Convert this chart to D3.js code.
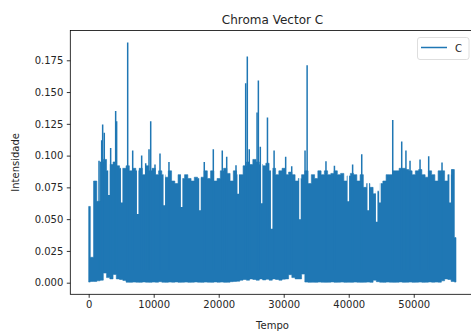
<!DOCTYPE html>
<html>
<head>
<meta charset="utf-8">
<script src="https://cdn.jsdelivr.net/npm/d3@7"></script>
<style>
  html, body { margin: 0; padding: 0; background: #fff; }
  svg { display: block; font-family: "DejaVu Sans", sans-serif; }
</style>
</head>
<body>
<svg id="chart" width="471" height="332"></svg>
<script>
// top of the dense band of the chroma line, one value every 500 samples (t = 0, 500, ...)
const corpo = [
  0.060, 0.020, 0.080, 0.064, 0.095, 0.097, 0.088, 0.093, 0.095, 0.092,
  0.090, 0.090, 0.092, 0.088, 0.090, 0.088, 0.090, 0.085, 0.092, 0.088,
  0.090, 0.085, 0.088, 0.085, 0.083, 0.088, 0.080, 0.078, 0.085, 0.082,
  0.085, 0.082, 0.080, 0.083, 0.082, 0.083, 0.088, 0.082, 0.088, 0.080,
  0.082, 0.088, 0.090, 0.086, 0.080, 0.088, 0.085, 0.085, 0.092, 0.095,
  0.093, 0.097, 0.095, 0.093, 0.092, 0.094, 0.088, 0.090, 0.085, 0.088,
  0.090, 0.085, 0.087, 0.085, 0.080, 0.082, 0.085, 0.088, 0.078, 0.085,
  0.082, 0.088, 0.085, 0.088, 0.085, 0.086, 0.088, 0.085, 0.086, 0.080,
  0.084, 0.086, 0.085, 0.080, 0.085, 0.075, 0.078, 0.075, 0.070, 0.072,
  0.078, 0.080, 0.085, 0.085, 0.088, 0.088, 0.090, 0.090, 0.089, 0.088,
  0.085, 0.088, 0.089, 0.085, 0.083, 0.088, 0.085, 0.080, 0.088, 0.088,
  0.080, 0.085, 0.089, 0.0355
];
// bottom of the band on the same grid
const vales = [
  0.0005, 0.001, 0.001, 0.0015, 0.002, 0.0076, 0.004, 0.003, 0.0065, 0.003,
  0.0025, 0.0018, 0.0004, 0.0003, 0.0005, 0.0004, 0.0003, 0.0006, 0.0004, 0.0003,
  0.0005, 0.0004, 0.0008, 0.0004, 0.0003, 0.0005, 0.0004, 0.0006, 0.0003, 0.0004,
  0.0005, 0.0003, 0.0004, 0.0006, 0.0004, 0.0003, 0.0005, 0.0004, 0.0003, 0.0006,
  0.0004, 0.0005, 0.0003, 0.0004, 0.0008, 0.001, 0.0012, 0.002, 0.0025, 0.002,
  0.003, 0.0025, 0.002, 0.003, 0.0022, 0.0028, 0.002, 0.003, 0.0025, 0.002,
  0.0028, 0.003, 0.0063, 0.004, 0.003, 0.003, 0.0068, 0.0005, 0.0003, 0.0004,
  0.0003, 0.0005, 0.0004, 0.0003, 0.0004, 0.0006, 0.0003, 0.0004, 0.0005, 0.0003,
  0.0004, 0.0003, 0.0005, 0.0004, 0.0003, 0.0004, 0.0005, 0.0003, 0.002, 0.0008,
  0.0004, 0.0003, 0.0005, 0.0004, 0.0003, 0.0004, 0.0006, 0.0003, 0.0004, 0.0005,
  0.0003, 0.0004, 0.0005, 0.0003, 0.0004, 0.0006, 0.0004, 0.0005, 0.0004, 0.0015,
  0.003, 0.0025, 0.001, 0.0005
];
// narrow peaks rising above the band
const picosTempo = [
  1590, 2000, 2150, 2400, 3380, 4150, 4300, 6000, 6770, 8150,
  8770, 9280, 9540, 10200, 10970, 12350, 17780, 19170, 20550, 21230,
  22660, 24150, 24400, 24700, 25900, 26100, 26400, 27500, 28520, 30300,
  31230, 33280, 33600, 36500, 37800, 40600, 42000, 46770, 48150, 48800,
  49430, 50970, 52300, 54350, 56000
];
const picosValor = [
  0.096, 0.112, 0.1245, 0.118, 0.106, 0.135, 0.127, 0.189, 0.104, 0.100,
  0.094, 0.105, 0.127, 0.093, 0.1017, 0.095, 0.095, 0.105, 0.104, 0.099,
  0.0925, 0.157, 0.178, 0.105, 0.134, 0.159, 0.107, 0.130, 0.104, 0.099,
  0.0917, 0.104, 0.171, 0.0955, 0.092, 0.093, 0.101, 0.128, 0.111, 0.104,
  0.096, 0.097, 0.0995, 0.0946, 0.089
];
// narrow dips where the band drops down
const quedasTempo = [
  3120, 5080, 7540, 11630, 14300, 17120, 23000, 26600, 28150, 32500,
  39940, 43000, 44300, 44800, 55600
];
const quedasValor = [
  0.069, 0.063, 0.054, 0.061, 0.0595, 0.057, 0.070, 0.0625, 0.0425, 0.050,
  0.064, 0.057, 0.048, 0.063, 0.063
];
const passo = 500;
const xTicks = [0, 10000, 20000, 30000, 40000, 50000];
const yTicks = [0, 0.025, 0.05, 0.075, 0.1, 0.125, 0.15, 0.175];

const banda = corpo.map((c, i) => ({ t: i * passo, hi: c, lo: vales[i] }));
const picos = picosTempo.map((t, i) => ({ t: t, v: picosValor[i] }));
const quedas = quedasTempo.map((t, i) => ({ t: t, v: quedasValor[i] }));

const mLeft = 70.3, mRight = 474.7, mTop = 30.5, mBottom = 294.3;
const svg = d3.select("#chart");

const xExt = [0, d3.max(banda, d => d.t) + 50];
const yExt = [d3.min(vales), d3.max(picosValor)];
const xPad = (xExt[1] - xExt[0]) * 0.05;
const yPad = (yExt[1] - yExt[0]) * 0.05;

const x = d3.scaleLinear().domain([xExt[0] - xPad, xExt[1] + xPad]).range([mLeft, mRight]);
const y = d3.scaleLinear().domain([yExt[0] - yPad, yExt[1] + yPad]).range([mBottom, mTop]);

svg.append("clipPath").attr("id", "clip")
  .append("rect")
  .attr("x", mLeft).attr("y", mTop)
  .attr("width", mRight - mLeft).attr("height", mBottom - mTop);

const plot = svg.append("g").attr("clip-path", "url(#clip)");

// the dense signal fills the band between its valleys and its usual peaks
plot.append("path")
  .datum(banda)
  .attr("fill", "#1f77b4")
  .attr("stroke", "#1f77b4")
  .attr("stroke-width", 0.6)
  .attr("stroke-linejoin", "round")
  .attr("d", d3.area()
    .curve(d3.curveStep)
    .x(d => x(d.t))
    .y0(d => y(d.lo))
    .y1(d => y(d.hi)));

// white slits cut into the band
plot.selectAll("line.queda")
  .data(quedas)
  .join("line")
  .attr("class", "queda")
  .attr("x1", d => x(d.t)).attr("x2", d => x(d.t))
  .attr("y1", y(0.1)).attr("y2", d => y(d.v))
  .attr("stroke", "#fff")
  .attr("stroke-width", 1.5);

plot.selectAll("line.pico")
  .data(picos)
  .join("line")
  .attr("class", "pico")
  .attr("x1", d => x(d.t)).attr("x2", d => x(d.t))
  .attr("y1", y(0.01)).attr("y2", d => y(d.v))
  .attr("stroke", "#1f77b4")
  .attr("stroke-width", 1.5);

// axes
const xAxis = svg.append("g")
  .attr("transform", `translate(0,${mBottom})`)
  .call(d3.axisBottom(x).tickValues(xTicks).tickSize(3.5).tickPadding(3.5).tickFormat(d3.format("d")));
const yAxis = svg.append("g")
  .attr("transform", `translate(${mLeft},0)`)
  .call(d3.axisLeft(y).tickValues(yTicks).tickSize(3.5).tickPadding(3.5).tickFormat(d3.format(".3f")));

[xAxis, yAxis].forEach(a => {
  a.select(".domain").remove();
  a.selectAll("line").attr("stroke", "#000").attr("stroke-width", 0.8);
  a.selectAll("text").attr("font-size", 10).attr("fill", "#262626")
    .attr("font-family", "DejaVu Sans, sans-serif");
});

// spines
svg.append("rect")
  .attr("x", mLeft).attr("y", mTop)
  .attr("width", mRight - mLeft).attr("height", mBottom - mTop)
  .attr("fill", "none").attr("stroke", "#000").attr("stroke-width", 0.8);

// title and labels
svg.append("text")
  .attr("x", (mLeft + mRight) / 2).attr("y", 23.5)
  .attr("text-anchor", "middle").attr("font-size", 12).attr("fill", "#262626")
  .text("Chroma Vector C");

svg.append("text")
  .attr("x", (mLeft + mRight) / 2).attr("y", 329)
  .attr("text-anchor", "middle").attr("font-size", 10).attr("fill", "#262626")
  .text("Tempo");

svg.append("text")
  .attr("transform", `translate(19,${(mTop + mBottom) / 2}) rotate(-90)`)
  .attr("text-anchor", "middle").attr("font-size", 10).attr("fill", "#262626")
  .text("Intensidade");

// legend
const lg = svg.append("g").attr("transform", "translate(417.5,37.5)");
lg.append("rect")
  .attr("width", 51.5).attr("height", 22).attr("rx", 2.5)
  .attr("fill", "#fff").attr("fill-opacity", 0.8)
  .attr("stroke", "#d6d6d6").attr("stroke-width", 0.8);
lg.append("line")
  .attr("x1", 3.5).attr("x2", 29.5).attr("y1", 10).attr("y2", 10)
  .attr("stroke", "#1f77b4").attr("stroke-width", 1.5);
lg.append("text")
  .attr("x", 37.5).attr("y", 14.5).attr("font-size", 10).attr("fill", "#262626")
  .text("C");
</script>
</body>
</html>
